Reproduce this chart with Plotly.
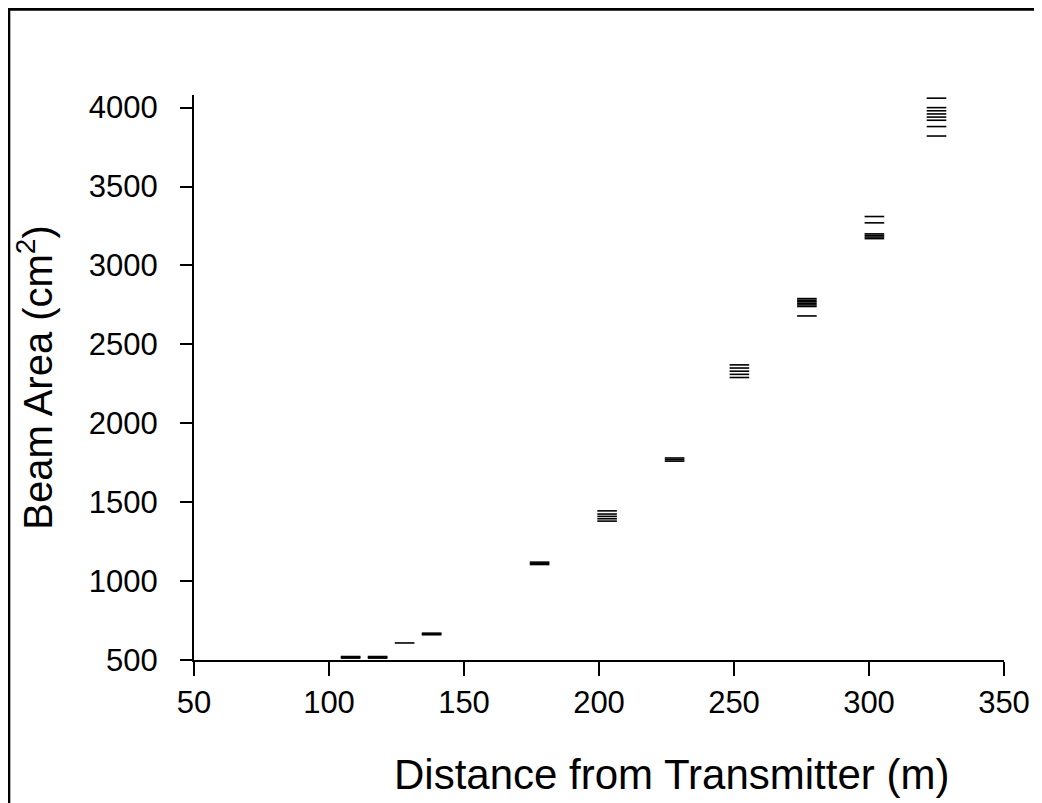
import plotly.graph_objects as go

# distance (m) and beam area (cm^2) readings, one list of areas per distance
distances = [108, 118, 128, 138, 178, 203, 228, 252, 277, 302, 325]
areas = [
    [512, 517, 522],
    [512, 517, 522],
    [608],
    [660, 665, 670],
    [1105, 1112, 1120],
    [1380, 1395, 1410, 1425, 1445],
    [1760, 1770, 1780],
    [2290, 2310, 2330, 2350, 2370],
    [2680, 2740, 2750, 2760, 2770, 2780, 2790],
    [3170, 3180, 3190, 3200, 3270, 3310],
    [3820, 3880, 3920, 3940, 3960, 3980, 4000, 4060],
]

xs = [d for d, a in zip(distances, areas) for _ in a]
ys = [v for a in areas for v in a]

# page body adds 8px, so margins are taken 8px smaller than the screen positions
L, R, T, B = 186, 46, 87, 151
W, H = 1042, 803
pw, ph = W - L - R, H - T - B

fig = go.Figure()
fig.add_trace(go.Scatter(
    x=xs, y=ys, mode="markers",
    marker=dict(symbol="line-ew", size=14, line=dict(color="black", width=1.6)),
    showlegend=False,
))

font = dict(family="Liberation Sans, Arial, sans-serif", color="black")
axis_common = dict(
    showgrid=False, zeroline=False, showline=True, linecolor="black", linewidth=2,
    ticks="outside", tickwidth=2, tickcolor="black", automargin=False,
    tickfont=dict(size=31, **font),
)
fig.update_xaxes(range=[50, 350], dtick=50, tick0=50, ticklen=14, **axis_common)
fig.update_yaxes(range=[500, 4080], tickvals=[500, 1000, 1500, 2000, 2500, 3000, 3500, 4000],
                 ticklen=12, ticklabelstandoff=16,
                 title=dict(text="Beam Area (cm<sup>2</sup>)", font=dict(size=40, **font), standoff=24),
                 **axis_common)

# x title sits a little right of the plot centre in the original
fig.add_annotation(text="Distance from Transmitter (m)", xref="paper", yref="paper",
                   x=0.59, y=-0.2035, xanchor="center", yanchor="middle",
                   showarrow=False, font=dict(size=42, **font))

# frame around the whole figure
fig.add_shape(type="rect", xref="paper", yref="paper",
              x0=-L / pw + 0.001, x1=1 + R / pw, y0=-B / ph, y1=1 + T / ph - 0.002,
              line=dict(color="black", width=3), layer="below")

fig.update_layout(
    width=W, height=H,
    margin=dict(l=L, r=R, t=T, b=B),
    plot_bgcolor="white", paper_bgcolor="white",
    template="none",
)

fig.write_html("out.html")
